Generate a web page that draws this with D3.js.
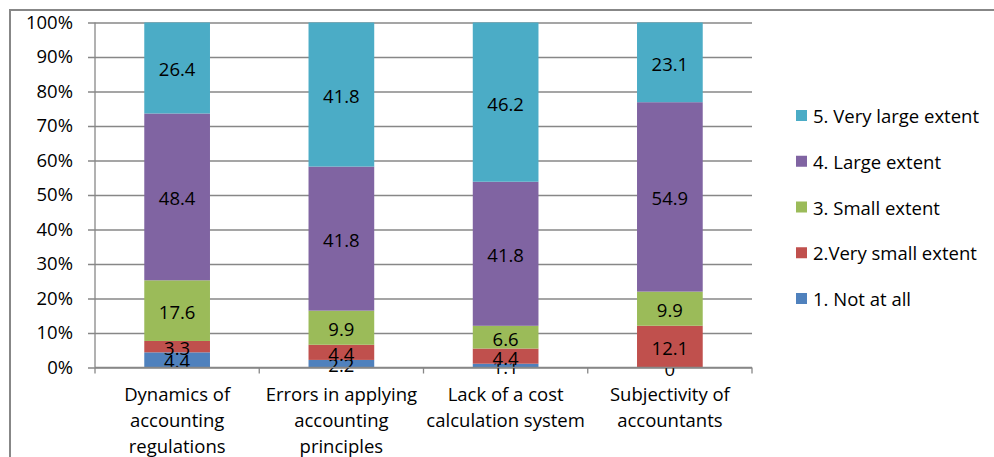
<!DOCTYPE html>
<html>
<head>
<meta charset="utf-8">
<script src="https://cdn.jsdelivr.net/npm/d3@7"></script>
<style>
  body { margin: 0; background: #fff; }
  svg text { font-family: "Open Sans", sans-serif; fill: #000; }
</style>
</head>
<body>
<div id="chart"></div>
<script>
// categories (one array of lines per label)
const categories = [
    ["Dynamics of", "accounting", "regulations"],
    ["Errors in applying", "accounting", "principles"],
    ["Lack of a cost", "calculation system"],
    ["Subjectivity of", "accountants"]
];
const seriesNames = ["1. Not at all", "2.Very small extent", "3. Small extent", "4. Large extent", "5. Very large extent"];
const notAtAll   = [4.4, 2.2, 1.1, 0];
const verySmall  = [3.3, 4.4, 4.4, 12.1];
const smallExt   = [17.6, 9.9, 6.6, 9.9];
const largeExt   = [48.4, 41.8, 41.8, 54.9];
const veryLarge  = [26.4, 41.8, 46.2, 23.1];
const yTicks = [0, 0.1, 0.2, 0.3, 0.4, 0.5, 0.6, 0.7, 0.8, 0.9, 1];
const colors = ["#4F81BD", "#C0504D", "#9BBB59", "#8064A2", "#4BACC6"];

const width = 994, height = 457;
const margin = {top: 22.5, left: 95, right: 242, bottom: 89.5};
const gridColor = "#878787";
const fontSize = 18.5;

const svg = d3.select("#chart").append("svg")
    .attr("width", width)
    .attr("height", height);

// outer chart border (runs off the right and bottom of the picture)
svg.append("rect")
    .attr("x", 10).attr("y", 10)
    .attr("width", width + 20).attr("height", height + 20)
    .attr("fill", "none")
    .attr("stroke", gridColor)
    .attr("stroke-width", 2);

// table for the stack
const table = categories.map(function(c, i) {
    return {idx: i, s0: notAtAll[i], s1: verySmall[i], s2: smallExt[i], s3: largeExt[i], s4: veryLarge[i]};
});
const keys = ["s0", "s1", "s2", "s3", "s4"];
const stacked = d3.stack().keys(keys).offset(d3.stackOffsetExpand)(table);

const x = d3.scaleBand()
    .domain(d3.range(categories.length))
    .range([margin.left, width - margin.right])
    .paddingInner(0.6)
    .paddingOuter(0.3);

const y = d3.scaleLinear()
    .domain([0, 1])
    .range([height - margin.bottom, margin.top]);

// gridlines + y axis
const yAxis = d3.axisLeft(y)
    .tickValues(yTicks)
    .tickFormat(d3.format(".0%"))
    .tickSize(-(width - margin.left - margin.right))
    .tickPadding(22);

const gy = svg.append("g")
    .attr("transform", "translate(" + margin.left + ",0)")
    .call(yAxis);
gy.select(".domain").remove();
gy.selectAll(".tick line")
    .attr("x1", -7)
    .attr("stroke", gridColor)
    .attr("stroke-width", 1.3);
gy.selectAll(".tick text")
    .attr("font-size", fontSize)
    .attr("font-family", "Open Sans");

svg.append("line")
    .attr("x1", margin.left).attr("x2", margin.left)
    .attr("y1", y(1)).attr("y2", y(0))
    .attr("stroke", gridColor).attr("stroke-width", 1.3);

// bars
const layers = svg.append("g").selectAll("g")
    .data(stacked)
    .enter().append("g")
    .attr("fill", function(d, i) { return colors[i]; });

layers.selectAll("rect")
    .data(function(d) { return d; })
    .enter().append("rect")
    .attr("x", function(d) { return x(d.data.idx); })
    .attr("width", x.bandwidth())
    .attr("y", function(d) { return y(d[1]); })
    .attr("height", function(d) { return y(d[0]) - y(d[1]); });

// x axis with category boundaries
const bounds = d3.range(categories.length + 1).map(function(i) {
    return margin.left + i * (width - margin.left - margin.right) / categories.length;
});
svg.append("line")
    .attr("x1", margin.left).attr("x2", width - margin.right)
    .attr("y1", y(0)).attr("y2", y(0))
    .attr("stroke", gridColor).attr("stroke-width", 1.3);
svg.append("g").selectAll("line")
    .data(bounds)
    .enter().append("line")
    .attr("x1", function(d) { return d; })
    .attr("x2", function(d) { return d; })
    .attr("y1", y(0)).attr("y2", y(0) + 6)
    .attr("stroke", gridColor).attr("stroke-width", 1.3);

// category labels
const catLabels = svg.append("g").selectAll("text")
    .data(categories)
    .enter().append("text")
    .attr("text-anchor", "middle")
    .attr("font-size", fontSize)
    .attr("transform", function(d, i) {
        return "translate(" + (x(i) + x.bandwidth() / 2) + "," + (y(0) + 33.5) + ")";
    });
catLabels.selectAll("tspan")
    .data(function(d) { return d; })
    .enter().append("tspan")
    .attr("x", 0)
    .attr("dy", function(d, i) { return i === 0 ? 0 : 26; })
    .text(function(d) { return d; });

// data labels
const allSeries = [notAtAll, verySmall, smallExt, largeExt, veryLarge];
layers.selectAll("text")
    .data(function(d, si) { return d.map(function(p) { return {p: p, si: si}; }); })
    .enter().append("text")
    .attr("text-anchor", "middle")
    .attr("dominant-baseline", "central")
    .attr("font-size", fontSize)
    .attr("fill", "#000")
    .attr("x", function(d) { return x(d.p.data.idx) + x.bandwidth() / 2; })
    .attr("y", function(d) { return (y(d.p[0]) + y(d.p[1])) / 2 + 1; })
    .text(function(d) { return allSeries[d.si][d.p.data.idx]; });

// legend (top: series 5, bottom: series 1)
const legend = svg.append("g")
    .selectAll("g")
    .data(d3.range(seriesNames.length).reverse())
    .enter().append("g")
    .attr("transform", function(d, i) { return "translate(796," + (115.5 + i * 45.75) + ")"; });
legend.append("rect")
    .attr("x", 0).attr("y", -5.5)
    .attr("width", 11).attr("height", 11)
    .attr("fill", function(d) { return colors[d]; });
legend.append("text")
    .attr("x", 17)
    .attr("dominant-baseline", "central")
    .attr("font-size", fontSize)
    .text(function(d) { return seriesNames[d]; });
</script>
</body>
</html>
